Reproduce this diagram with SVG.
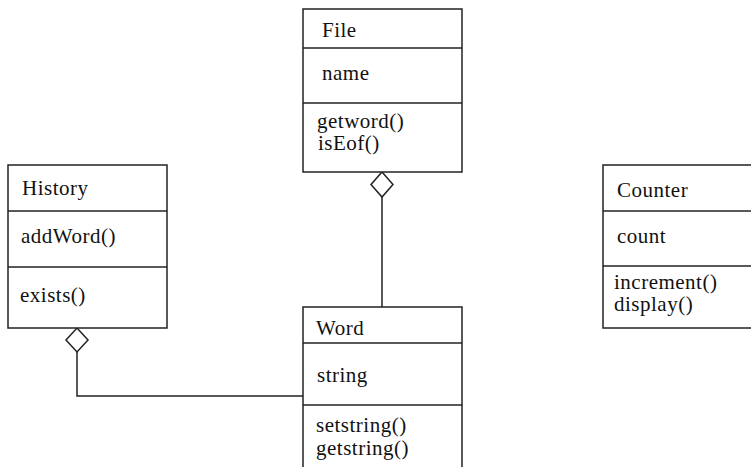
<svg xmlns="http://www.w3.org/2000/svg" width="751" height="467" viewBox="0 0 751 467">
<style>
.box{fill:#fff;stroke:#222;stroke-width:1.5}
.div{stroke:#222;stroke-width:1.5}
.t{font-family:"Liberation Serif","Times New Roman",serif;font-size:21px;letter-spacing:0.5px;fill:#111}
.c{fill:none;stroke:#222;stroke-width:1.5}
.d{fill:#fff;stroke:#222;stroke-width:1.5}
</style>
<rect width="751" height="467" fill="#fff"/>
<g id="connectors">
<polyline class="c" points="77,352 77,396 303,396"/>
<polygon class="d" points="77,328 88,340 77,352 66,340"/>
<line class="c" x1="382" y1="197" x2="382" y2="307"/>
<polygon class="d" points="382,172 393,184.5 382,197 371,184.5"/>
</g>
<g id="File">
<rect class="box" x="303" y="9" width="159" height="163"/>
<line class="div" x1="303" y1="48" x2="462" y2="48"/>
<line class="div" x1="303" y1="103" x2="462" y2="103"/>
<text class="t" x="322" y="37">File</text>
<text class="t" x="322" y="80">name</text>
<text class="t" x="317" y="128">getword()</text>
<text class="t" x="318" y="150">isEof()</text>
</g>
<g id="History">
<rect class="box" x="8" y="165" width="159" height="163"/>
<line class="div" x1="8" y1="211" x2="167" y2="211"/>
<line class="div" x1="8" y1="267" x2="167" y2="267"/>
<text class="t" x="22" y="195">History</text>
<text class="t" x="21" y="243">addWord()</text>
<text class="t" x="20" y="302">exists()</text>
</g>
<g id="Word">
<rect class="box" x="303" y="307" width="159" height="180"/>
<line class="div" x1="303" y1="343" x2="462" y2="343"/>
<line class="div" x1="303" y1="405" x2="462" y2="405"/>
<text class="t" x="316" y="335">Word</text>
<text class="t" x="317" y="382">string</text>
<text class="t" x="316" y="432">setstring()</text>
<text class="t" x="316" y="455">getstring()</text>
</g>
<g id="Counter">
<rect class="box" x="603" y="165" width="160" height="163"/>
<line class="div" x1="603" y1="211" x2="763" y2="211"/>
<line class="div" x1="603" y1="266" x2="763" y2="266"/>
<text class="t" x="617" y="197">Counter</text>
<text class="t" x="617" y="243">count</text>
<text class="t" x="614" y="289">increment()</text>
<text class="t" x="614" y="311">display()</text>
</g>
</svg>
